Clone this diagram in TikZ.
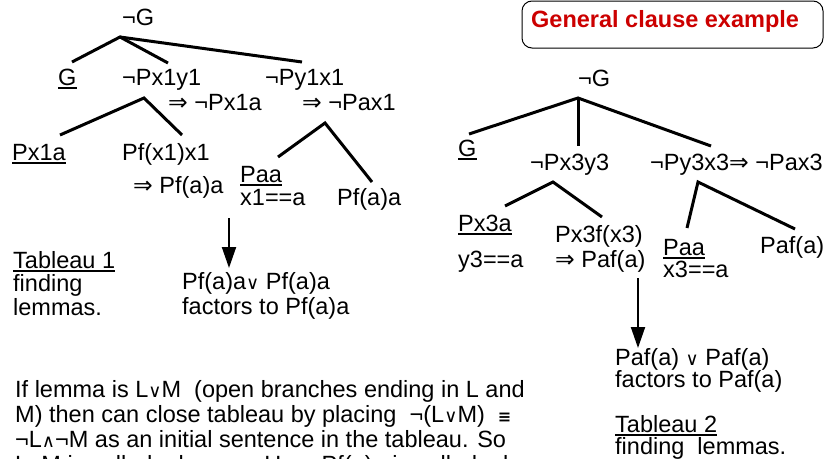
\documentclass[tikz,border=0pt]{standalone}
\usepackage{fontspec}
\setmainfont{Liberation Sans}
\newfontfamily\symf{DejaVu Sans}
\usetikzlibrary{arrows.meta}
\newcommand\fs{\fontsize{23.5}{24.5}\selectfont}
\newcommand\lorx{{\symf\fontsize{18}{18}\selectfont ∨}}
\newcommand\landx{{\symf\fontsize{18}{18}\selectfont ∧}}
\newcommand\impx{{\symf ⇒}}
\newcommand\eqvx{{\symf\bfseries\fontsize{16}{16}\selectfont ≡}}
\definecolor{titlered}{RGB}{204,0,0}
\begin{document}
\begin{tikzpicture}[x=1pt,y=-1pt,
  txt/.style={anchor=base west, inner sep=0pt, font=\fs},
  branch/.style={line width=3pt},
  ulline/.style={line width=1.2pt},
  arr/.style={line width=2pt, -{Triangle[length=21pt,width=14pt]}}]
\useasboundingbox (0,0) rectangle (832,458);
\newcommand\ulnode[1]{\draw[ulline] ([yshift=-3pt]#1.base west) -- ([yshift=-3pt]#1.base east);}

% ---------------- Tableau 1 ----------------
\node[txt] (lnG) at (122,25) {¬G};
\node[txt] (lG) at (58,85) {G};
\node[txt] (lPxy) at (122,85) {¬Px1y1};
\node[txt] (lPyx) at (265,85) {¬Py1x1};
\node[txt] (lI1) at (168,110) {\impx\ ¬Px1a};
\node[txt] (lI2) at (302,110) {\impx\ ¬Pax1};
\node[txt] (lPx1a) at (12,160) {Px1a};
\node[txt] (lPfx) at (122,160) {Pf(x1)x1};
\node[txt] (lI3) at (133,193) {\impx\ Pf(a)a};
\node[txt] (lPaa) at (240,182) {Paa};
\node[txt] (lEq) at (240,205) {x1==a};
\node[txt] (lPfa) at (337,205) {Pf(a)a};
\node[txt] (lT) at (13,268) {Tableau 1};
\node[txt] (lT2) at (13,291) {finding};
\node[txt] (lT3) at (13,315) {lemmas.};
\node[txt] (lR1) at (182,289) {Pf(a)a\lorx\ Pf(a)a};
\node[txt] (lR2) at (182,314) {factors to Pf(a)a};
\ulnode{lG}
\ulnode{lPx1a}
\ulnode{lPaa}
\ulnode{lT}

\coordinate (lr) at (120,37);
\coordinate (lr1) at (72,62);
\coordinate (lr2) at (168,63);
\coordinate (lr3) at (302,62);
\coordinate (la) at (144,98);
\coordinate (la1) at (60,135);
\coordinate (la2) at (182,135);
\coordinate (lb) at (325,123);
\coordinate (lb1) at (278,157);
\coordinate (lb2) at (372,182);
\draw[branch] (lr1) -- (lr) -- (lr2);
\draw[branch] (lr) -- (lr3);
\draw[branch] (la1) -- (la) -- (la2);
\draw[branch] (lb1) -- (lb) -- (lb2);
\coordinate (lA1) at (229,218);
\coordinate (lA2) at (229,268);
\draw[arr] (lA1) -- (lA2);

% ---------------- paragraph ----------------
\node[txt] (p1) at (15,397) {If lemma is L\lorx M\ \ (open branches ending in L and};
\node[txt] (p2) at (15,422) {M) then can close tableau by placing\ \ ¬(L\lorx M)\ \ \eqvx};
\node[txt] (p3) at (15,447) {¬L\landx{}¬M as an initial sentence in the tableau. So};
\node[txt] (p4) at (15,472) {L\lorx M is called a lemma. Here Pf(a)a is called a lemma};

% ---------------- Tableau 2 ----------------
\node[draw, rounded corners=10pt, line width=1pt, minimum width=301pt,
      minimum height=47pt, inner sep=0pt] (tbox) at (672.5,24.5) {};
\node[txt, font=\fs\bfseries, text=titlered] (title) at (531,27) {General clause example};

\node[txt] (rnG) at (578,86) {¬G};
\node[txt] (rG) at (458,156) {G};
\node[txt] (rPxy) at (530,170) {¬Px3y3};
\node[txt] (rPyx) at (650,170) {¬Py3x3\impx\ ¬Pax3};
\node[txt] (rPx3a) at (458,231) {Px3a};
\node[txt] (rEq1) at (458,267) {y3==a};
\node[txt] (rPxf) at (555,242) {Px3f(x3)};
\node[txt] (rI) at (555,267) {\impx\ Paf(a)};
\node[txt] (rPaa) at (663,255) {Paa};
\node[txt] (rEq2) at (663,277) {x3==a};
\node[txt] (rPaf) at (760,253) {Paf(a)};
\node[txt] (rR1) at (615,365) {Paf(a) \lorx\ Paf(a)};
\node[txt] (rR2) at (615,387) {factors to Paf(a)};
\node[txt] (rT) at (615,432) {Tableau 2};
\node[txt] (rT2) at (615,454) {finding\ \ lemmas.};
\ulnode{rG}
\ulnode{rPx3a}
\ulnode{rPaa}
\ulnode{rT}

\coordinate (rr) at (578,98);
\coordinate (rr1) at (469,134);
\coordinate (rr2) at (578,146);
\coordinate (rr3) at (711,146);
\coordinate (ra) at (553,182);
\coordinate (ra1) at (505,206);
\coordinate (ra2) at (602,217);
\coordinate (rb) at (698,182);
\coordinate (rb1) at (687,228);
\coordinate (rb2) at (795,229);
\draw[branch] (rr1) -- (rr) -- (rr3);
\draw[branch] (rr) -- (rr2);
\draw[branch] (ra1) -- (ra) -- (ra2);
\draw[branch] (rb1) -- (rb) -- (rb2);
\coordinate (rA1) at (638,278);
\coordinate (rA2) at (638,348);
\draw[arr] (rA1) -- (rA2);
\end{tikzpicture}
\end{document}
